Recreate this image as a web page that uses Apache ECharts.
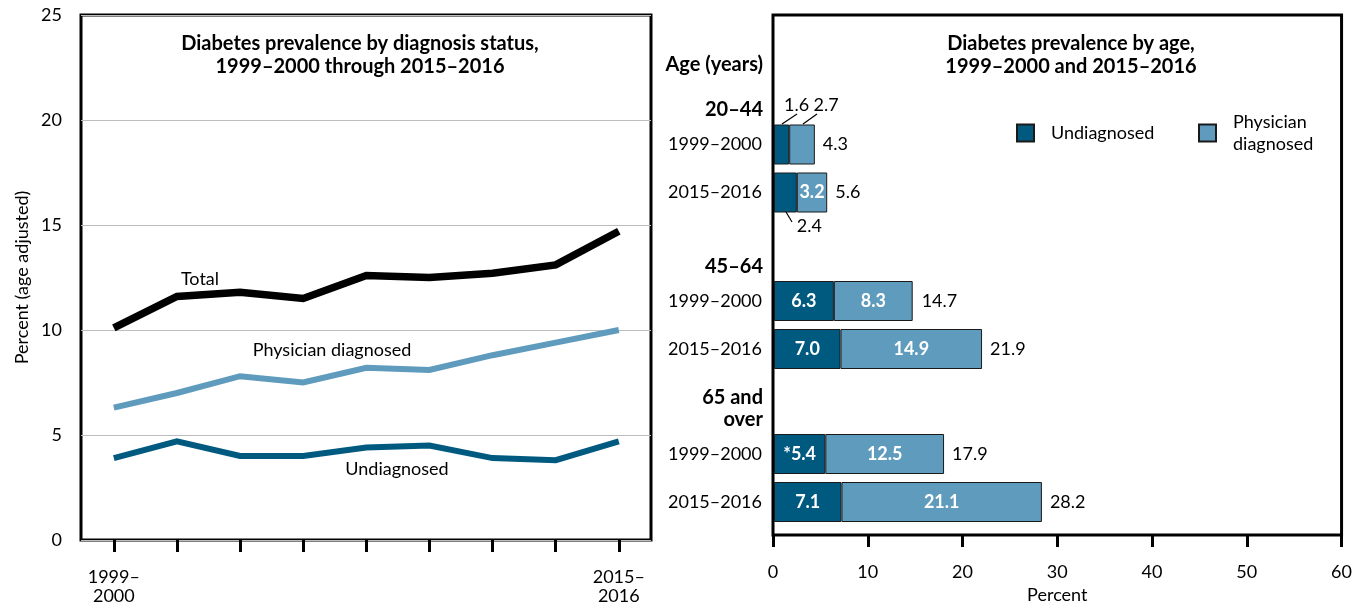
<!DOCTYPE html>
<html><head><meta charset="utf-8">
<script src="https://cdn.jsdelivr.net/npm/echarts@6/dist/echarts.min.js"></script>
<style>html,body{margin:0;padding:0;background:#fff}#c{width:1355px;height:609px}</style>
</head><body><div id="c"></div>
<script>
// ---- data ----
const periods = ['1999–2000','2001–2002','2003–2004','2005–2006','2007–2008','2009–2010','2011–2012','2013–2014','2015–2016'];
const totalTrend       = [10.1, 11.6, 11.8, 11.5, 12.6, 12.5, 12.7, 13.1, 14.7];
const physicianTrend   = [6.3, 7.0, 7.8, 7.5, 8.2, 8.1, 8.8, 9.4, 10.0];
const undiagnosedTrend = [3.9, 4.7, 4.0, 4.0, 4.4, 4.5, 3.9, 3.8, 4.7];
const yTicks = [0, 5, 10, 15, 20, 25];

const ageGroups = ['20–44', '45–64', '65 and\nover'];
const barYears = ['1999–2000', '2015–2016'];
const undiagByAge = [[1.6, 2.4], [6.3, 7.0], [5.4, 7.1]];
const physByAge   = [[2.7, 3.2], [8.3, 14.9], [12.5, 21.1]];
const totalByAge  = [[4.3, 5.6], [14.7, 21.9], [17.9, 28.2]];
const undiagFlag  = [['', ''], ['', ''], ['*', '']];
const xTicksBar = [0, 10, 20, 30, 40, 50, 60];

// ---- styles ----
const FONT = 'Lato';
const DARK = '#005a80', LIGHT = '#5f9bbd';
const FS = 18;

const chart = echarts.init(document.getElementById('c'), null, {renderer: 'canvas'});

const barTops = [120.5, 277, 430];
const grids = [
  {left: 81, top: 15, width: 570, height: 525, show: true, borderColor: '#000', borderWidth: 3, backgroundColor: 'transparent'},
  {left: 773, top: 15, width: 569, height: 525, show: true, borderColor: '#000', borderWidth: 3, backgroundColor: 'transparent'}
];
barTops.forEach(t => grids.push({left: 774, top: t, width: 570, height: 96}));

const xAxes = [
  {gridIndex: 0, type: 'value', min: -0.52, max: 8.51,
   axisLine: {show: false}, splitLine: {show: false},
   axisTick: {show: true, length: 12, lineStyle: {color: '#000', width: 3}, customValues: periods.map((p, i) => i)},
   axisLabel: {customValues: [0, periods.length - 1], margin: 28, fontFamily: FONT, fontSize: FS, color: '#000', lineHeight: 19,
     formatter: v => periods[Math.round(v)].replace('–', '–\n')}},
  {gridIndex: 1, type: 'value', min: xTicksBar[0], max: xTicksBar[xTicksBar.length - 1], interval: 10,
   axisLine: {show: false}, splitLine: {show: false},
   axisTick: {show: true, length: 12, lineStyle: {color: '#000', width: 3}},
   axisLabel: {margin: 28, fontFamily: FONT, fontSize: FS, color: '#000'},
   name: 'Percent', nameLocation: 'middle', nameGap: 60, nameTextStyle: {fontFamily: FONT, fontSize: FS, color: '#000', verticalAlign: 'middle'}}
];
barTops.forEach((t, i) => xAxes.push({gridIndex: i + 2, type: 'value', min: 0, max: 60, show: false}));

const yAxes = [
  {gridIndex: 0, type: 'value', min: yTicks[0], max: yTicks[yTicks.length - 1], interval: 5,
   axisLine: {show: false}, axisTick: {show: false},
   splitLine: {show: true, lineStyle: {color: '#bdbdbd', width: 1}},
   axisLabel: {margin: 19, fontFamily: FONT, fontSize: FS, color: '#000'},
   name: 'Percent (age adjusted)', nameLocation: 'middle', nameGap: 50, nameRotate: 90,
   nameTextStyle: {fontFamily: FONT, fontSize: FS, color: '#000'}},
  {gridIndex: 1, type: 'value', min: 0, max: 1, show: false}
];
barTops.forEach((t, i) => yAxes.push({gridIndex: i + 2, type: 'category', inverse: true, data: barYears,
  axisLine: {show: false}, axisTick: {show: false},
  axisLabel: {margin: 12, fontFamily: FONT, fontSize: FS, color: '#000'}}));

const series = [
  {type: 'line', name: 'Total', xAxisIndex: 0, yAxisIndex: 0, symbol: 'none', silent: true,
   lineStyle: {width: 7.5, color: '#000', join: 'miter'}, data: totalTrend.map((v, i) => [i, v])},
  {type: 'line', name: 'Physician (trend)', xAxisIndex: 0, yAxisIndex: 0, symbol: 'none', silent: true,
   lineStyle: {width: 6, color: LIGHT, join: 'miter'}, data: physicianTrend.map((v, i) => [i, v])},
  {type: 'line', name: 'Undiagnosed (trend)', xAxisIndex: 0, yAxisIndex: 0, symbol: 'none', silent: true,
   lineStyle: {width: 6, color: DARK, join: 'miter'}, data: undiagnosedTrend.map((v, i) => [i, v])}
];

const outsideLabel = {
  'u-0-0': {position: 'top', offset: [15, -5]},
  'u-0-1': {position: 'bottom', offset: [24, 0]},
  'p-0-0': {position: 'top', offset: [24, -5]}
};
const inLabel = {show: true, position: 'inside', color: '#fff', fontWeight: 'bold', fontFamily: FONT, fontSize: FS};
function itemLabel(key) {
  const o = outsideLabel[key];
  if (!o) return undefined;
  return {show: true, position: o.position, offset: o.offset, distance: 5, color: '#000', fontWeight: 'normal'};
}

ageGroups.forEach((g, gi) => {
  series.push({type: 'bar', name: 'Undiagnosed', xAxisIndex: gi + 2, yAxisIndex: gi + 2, stack: 's' + gi, barWidth: 40,
    itemStyle: {color: DARK, borderColor: '#1a1a1a', borderWidth: 1},
    label: Object.assign({}, inLabel, {formatter: p => undiagFlag[gi][p.dataIndex] + p.value.toFixed(1)}),
    data: undiagByAge[gi].map((v, yi) => ({value: v, label: itemLabel('u-' + gi + '-' + yi)}))});
  series.push({type: 'bar', name: 'Physician diagnosed', xAxisIndex: gi + 2, yAxisIndex: gi + 2, stack: 's' + gi, barWidth: 40,
    itemStyle: {color: LIGHT, borderColor: '#1a1a1a', borderWidth: 1},
    label: Object.assign({}, inLabel, {formatter: p => p.value.toFixed(1)}),
    data: physByAge[gi].map((v, yi) => ({value: v, label: itemLabel('p-' + gi + '-' + yi)}))});
  series.push({type: 'scatter', name: 'total-' + gi, xAxisIndex: gi + 2, yAxisIndex: gi + 2, symbolSize: 0, silent: true,
    itemStyle: {color: '#000', opacity: 1},
    label: {show: true, position: 'right', distance: 8, color: '#000', opacity: 1, fontFamily: FONT, fontSize: FS, formatter: p => p.value[0].toFixed(1)},
    data: totalByAge[gi].map((v, yi) => [v, yi])});
});

const txt = (x, y, text, extra) => ({type: 'text', x: x, y: y, silent: true,
  style: Object.assign({text: text, fontFamily: FONT, fontSize: FS, fill: '#000', align: 'center', verticalAlign: 'middle'}, extra || {})});
const ln = (x1, y1, x2, y2) => ({type: 'line', silent: true, z: 10, shape: {x1, y1, x2, y2}, style: {stroke: '#000', lineWidth: 1.2}});

const headerY = [110, 267, 409];
const graphic = [
  txt(200, 279, 'Total'),
  txt(332, 350, 'Physician diagnosed'),
  txt(397, 469, 'Undiagnosed'),
  txt(763, 65, 'Age (years)', {align: 'right', fontWeight: 'bold', fontSize: 20}),
  ln(782, 124, 797, 114),
  ln(803, 124, 817, 114),
  ln(786, 212, 792, 222)
];
ageGroups.forEach((g, gi) => graphic.push(txt(763, headerY[gi], g, {align: 'right', fontWeight: 'bold', fontSize: 20, lineHeight: 22})));

const titleStyle = {fontFamily: FONT, fontSize: 20, fontWeight: 'bold', lineHeight: 23, color: '#000'};
const option = {
  animation: false,
  backgroundColor: '#fff',
  textStyle: {fontFamily: FONT},
  title: [
    {text: 'Diabetes prevalence by diagnosis status,\n1999–2000 through 2015–2016', left: 360, top: 32, textAlign: 'center', padding: 0, textStyle: titleStyle},
    {text: 'Diabetes prevalence by age,\n1999–2000 and 2015–2016', left: 1071, top: 32, textAlign: 'center', padding: 0, textStyle: titleStyle}
  ],
  legend: [
    {data: ['Undiagnosed'], left: 1016, top: 122, padding: 0, itemWidth: 17, itemHeight: 17, selectedMode: false, icon: 'rect',
     textStyle: {fontFamily: FONT, fontSize: FS, color: '#000', lineHeight: 22, padding: [0, 0, 0, 12]}},
    {data: ['Physician diagnosed'], left: 1198, top: 100, padding: 0, itemWidth: 17, itemHeight: 17, selectedMode: false, icon: 'rect',
     formatter: () => 'Physician\ndiagnosed',
     textStyle: {fontFamily: FONT, fontSize: FS, color: '#000', lineHeight: 22, padding: [22, 0, 0, 12]}}
  ],
  grid: grids,
  xAxis: xAxes,
  yAxis: yAxes,
  series: series,
  graphic: graphic
};
chart.setOption(option);
</script>
</body></html>
